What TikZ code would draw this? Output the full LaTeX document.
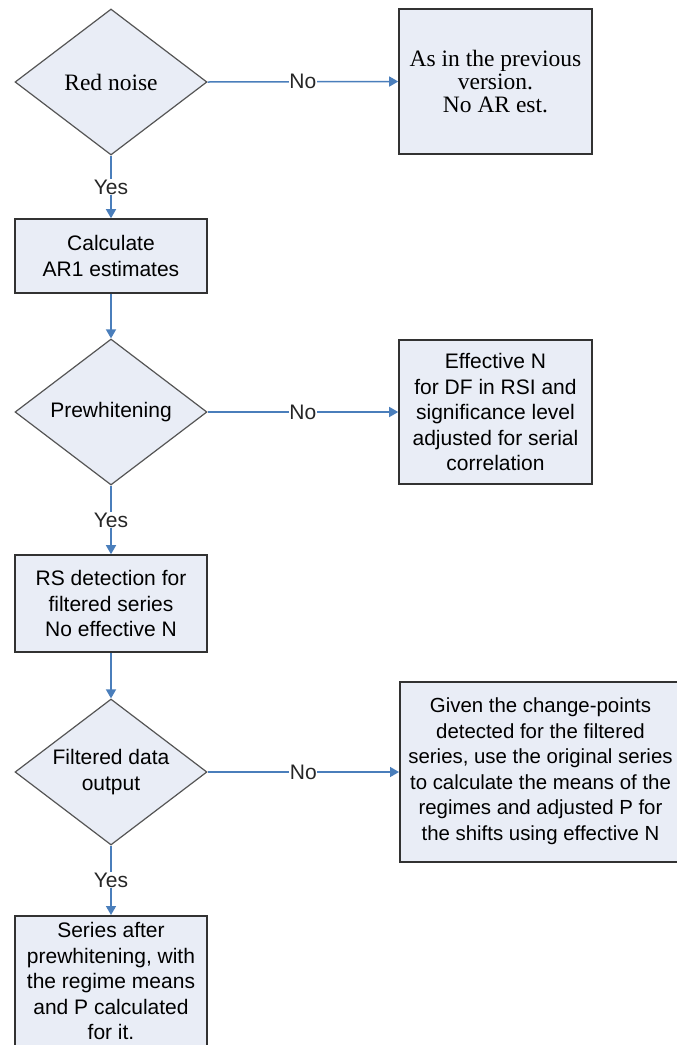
\documentclass[tikz,border=0pt]{standalone}
\usepackage{fontspec}
\setmainfont{Liberation Serif}
\setsansfont{Liberation Sans}
\usetikzlibrary{shapes.geometric,arrows.meta}
\definecolor{boxfill}{RGB}{233,237,246}
\definecolor{boxdraw}{RGB}{50,50,50}
\definecolor{diadraw}{RGB}{85,85,85}
\definecolor{arrowblue}{RGB}{74,126,187}
\tikzset{
  sanstext/.style={font=\sffamily\fontsize{21}{25.5}\selectfont},
  smallsans/.style={font=\sffamily\fontsize{20.4}{25.5}\selectfont},
  seriftext/.style={font=\rmfamily\fontsize{23.5}{23}\selectfont},
  procbox/.style={draw=boxdraw, line width=1.6pt, fill=boxfill, rectangle, inner sep=0pt, align=center},
  decision/.style={draw=diadraw, line width=1.2pt, fill=boxfill, diamond, aspect=1.315, inner sep=0pt, minimum width=192pt, minimum height=146pt, align=center},
  flow/.style={draw=arrowblue, line width=1.5pt, -{Triangle[length=9pt,width=10pt]}},
  lbl/.style={sanstext, fill=white, inner sep=0.5pt, text=black!85}
}
\begin{document}
\begin{tikzpicture}[x=1pt,y=-1pt]
\useasboundingbox (0,0) rectangle (677,1045);
\fill[white] (0,0) rectangle (677,1045);
\clip (0,0) rectangle (677,1045);

% left column
\node[decision, seriftext] (d1) at (111,82) {Red noise};
\node[procbox, sanstext, minimum width=192pt, minimum height=74pt] (calc) at (111,256) {Calculate\\AR1 estimates};
\node[decision, sanstext] (d2) at (111,412) {Prewhitening};
\node[procbox, sanstext, minimum width=192pt, minimum height=97pt] (rs) at (111,603.5) {RS detection for\\filtered series\\No effective N};
\node[decision, sanstext] (d3) at (111,772) {Filtered data\\output};
\node[procbox, sanstext, minimum width=192pt, minimum height=150pt, anchor=north] (fin) at (111,915) {};
\node[sanstext, align=center] (fintext) at (111,981) {Series after\\prewhitening, with\\the regime means\\and P calculated\\for it.};

% right column
\node[procbox, seriftext, minimum width=193pt, minimum height=145pt] (b1) at (495.5,81.5) {As in the previous\\version.\\No AR est.};
\node[procbox, sanstext, minimum width=193pt, minimum height=144pt] (b2) at (495.5,412) {Effective N\\for DF in RSI and\\significance level\\adjusted for serial\\correlation};
\node[procbox, minimum width=287pt, minimum height=180pt, anchor=west] (b3) at (399,772) {};
\node[smallsans, align=center] (b3text) at (540.5,771) {Given the change-points\\detected for the filtered\\series, use the original series\\to calculate the means of the\\regimes and adjusted P for\\the shifts using effective N};

% connectors
\draw[flow] (d1.east) -- node[lbl] (no1) {No} (b1.west);
\draw[flow] (d2.east) -- node[lbl] (no2) {No} (b2.west);
\draw[flow] (d3.east) -- node[lbl] (no3) {No} (b3.west);
\draw[flow] (d1.south) -- node[lbl] (yes1) {Yes} (calc.north);
\draw[flow] (calc.south) -- (d2.north);
\draw[flow] (d2.south) -- node[lbl] (yes2) {Yes} (rs.north);
\draw[flow] (rs.south) -- (d3.north);
\draw[flow] (d3.south) -- node[lbl] (yes3) {Yes} (fin.north);
\end{tikzpicture}
\end{document}
